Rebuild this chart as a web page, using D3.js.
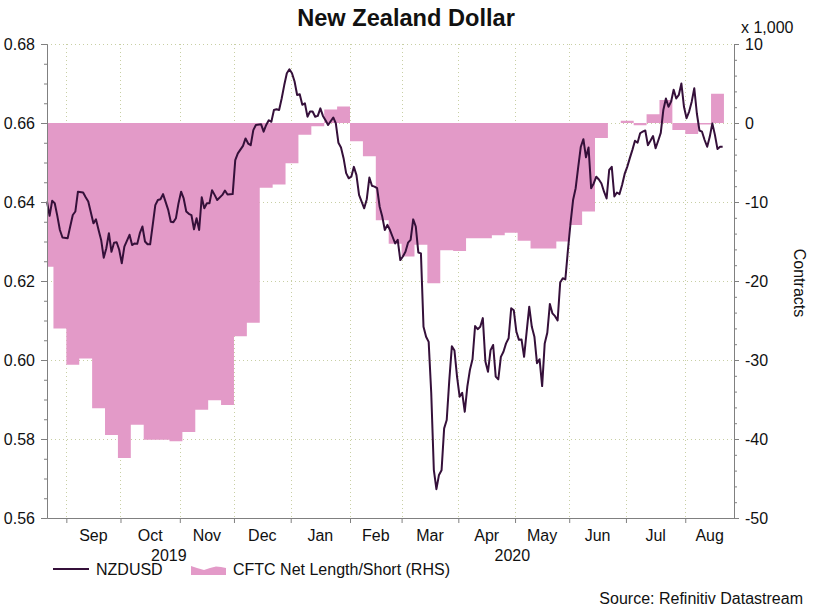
<!DOCTYPE html>
<html>
<head>
<meta charset="utf-8">
<script src="https://cdn.jsdelivr.net/npm/d3@7"></script>
<style>
  body { margin: 0; background: #fff; }
  svg text { font-family: "Liberation Sans", Arial, sans-serif; fill: #111; }
</style>
</head>
<body>
<div id="chart"></div>
<script>
// first trading day shown
const startDay = new Date(2019, 7, 21);

// NZDUSD; fxDay = trading days after 21 Aug 2019
const fxDay = [0,1,2,3,4,5,6,8,9,10,11,12,14,15,16,18,19,20,21,22,23,24,25,26,27,28,29,30,32,33,34,35,36,37,38,39,40,41,42,43,44,45,47,48,49,50,51,52,53,54,55,56,57,58,59,60,61,62,63,64,65,66,68,69,
  70,72,73,74,76,77,78,79,80,81,83,84,85,86,87,88,89,90,91,92,93,94,95,96,97,98,99,100,101,102,103,104,105,106,107,108,109,111,112,113,114,115,116,117,118,119,120,121,123,124,125,126,127,128,129,130,131,132,133,134,135,136,137,
  138,139,140,141,142,143,144,145,146,147,148,149,150,151,152,153,154,155,156,157,158,159,160,161,162,163,164,165,166,167,168,169,170,171,172,173,174,175,176,177,178,179,180,181,182,183,184,185,186,187,188,189,190,191,192,193,194,195,196,197,198,199,200,201,202,203,204,205,
  206,207,208,209,210,211,212,213,214,215,216,217,218,219,220,221,222,223,224,225,226,227,228,229,230,231,232,233,234,235,236,237,238,239,240,241,242,243,244,245,246,247,248,249,250,251,252,253,254,255,256,257,258,259,260,261,262];
const fxValue = [0.6401,0.6365,0.6403,0.6397,0.6365,0.6329,0.6310,0.6308,0.6338,0.6367,0.6376,0.6426,0.6424,0.6412,0.6401,0.6346,0.6356,0.6329,0.6304,0.6259,0.6283,0.6321,0.6274,0.6297,0.6298,0.6279,0.6245,0.6287,0.6317,0.6291,0.6295,0.6294,0.6321,0.6338,0.6300,0.6293,0.6293,0.6342,0.6392,0.6405,0.6407,0.6420,0.6380,0.6350,0.6349,0.6359,0.6397,0.6426,0.6409,0.6376,0.6370,0.6367,0.6331,0.6359,0.6329,0.6412,0.6384,0.6397,0.6397,0.6430,0.6418,0.6405,0.6418,0.6429,
  0.6419,0.6420,0.6506,0.6523,0.6542,0.6561,0.6548,0.6544,0.6582,0.6595,0.6597,0.6578,0.6595,0.6607,0.6603,0.6633,0.6635,0.6633,0.6662,0.6696,0.6726,0.6736,0.6726,0.6705,0.6671,0.6673,0.6646,0.6650,0.6616,0.6629,0.6629,0.6616,0.6618,0.6637,0.6618,0.6607,0.6595,0.6614,0.6599,0.6550,0.6538,0.6511,0.6473,0.6460,0.6464,0.6489,0.6468,0.6418,0.6384,0.6407,0.6462,0.6441,0.6439,0.6435,0.6388,0.6363,0.6329,0.6342,0.6329,0.6312,0.6295,0.6304,0.6253,
  0.6262,0.6274,0.6297,0.6304,0.6356,0.6338,0.6272,0.6270,0.6084,0.6059,0.6046,0.5916,0.5722,0.5673,0.5709,0.5721,0.5827,0.5848,0.5949,0.6035,0.6024,0.5958,0.5907,0.5917,0.5869,0.5933,0.5975,0.6002,0.6086,0.6078,0.6084,0.6106,0.5996,0.5970,0.6025,0.6038,0.5958,0.5951,0.6008,0.6021,0.6042,0.6055,0.6131,0.6126,0.6072,0.6051,0.6052,0.6008,0.6072,0.6135,0.6084,0.6059,0.5992,0.6002,0.5934,0.6042,0.6069,0.6142,0.6118,0.6111,0.6100,0.6196,0.6207,0.6204,0.6278,0.6346,0.6405,0.6435,
  0.6489,0.6540,0.6559,0.6513,0.6538,0.6435,0.6447,0.6464,0.6457,0.6447,0.6426,0.6409,0.6481,0.6489,0.6414,0.6424,0.6420,0.6443,0.6471,0.6489,0.6511,0.6532,0.6555,0.6550,0.6574,0.6578,0.6581,0.6544,0.6555,0.6567,0.6536,0.6555,0.6575,0.6633,0.6662,0.6641,0.6654,0.6684,0.6662,0.6671,0.6700,0.6641,0.6612,0.6629,0.6654,0.6688,0.6624,0.6581,0.6578,0.6557,0.6540,0.6565,0.6599,0.6570,0.6534,0.6540,0.6540];

// CFTC net position, thousands of contracts, one value per week (weeks start on Monday)
const cftcWeekStart = d3.timeMonday.range(new Date(2019, 7, 19), new Date(2020, 7, 18));
const cftcValue = [-18.2,-26.0,-30.6,-29.8,-36.1,-39.5,-42.4,-38.2,-40.1,-40.1,-40.3,-39.1,-36.3,-35.1,-35.7,-27.0,-25.3,
  -8.2,-7.8,-5.1,-1.5,-0.4,1.7,2.1,-2.3,-4.2,-12.3,-15.3,-16.9,-15.4,-20.3,-16.1,-16.2,-14.6,-14.6,-14.2,-13.9,-14.9,-15.9,-15.9,-15.0,
  -12.9,-11.2,-1.9,0,0.3,-0.3,1.1,2.9,-0.9,-1.4,-0.2,3.7];

const leftTicks = [0.56, 0.58, 0.60, 0.62, 0.64, 0.66, 0.68];
const rightTicks = [-50, -40, -30, -20, -10, 0, 10];
const axisEndDay = 266.4;   // axis runs a few days past the last point

const width = 813, height = 608;
const plot = { left: 47, right: 734, top: 44, bottom: 518 };
const lineColor = "#35103a", areaColor = "#e39ac8", axisColor = "#808080", gridColor = "#c8cfa4";

const weekday = d3.timeDay.filter(d => d.getDay() !== 0 && d.getDay() !== 6);
function tradingDay(date) {
  return date < startDay ? -weekday.range(date, startDay).length : weekday.range(startDay, date).length;
}

const x = d3.scaleLinear().domain([0, axisEndDay]).range([plot.left, plot.right]);
const yL = d3.scaleLinear().domain([0.56, 0.68]).range([plot.bottom, plot.top]);
const yR = d3.scaleLinear().domain([-50, 10]).range([plot.bottom, plot.top]);

const svg = d3.select("#chart").append("svg")
  .attr("width", width).attr("height", height);

svg.append("defs").append("clipPath").attr("id", "plotclip")
  .append("rect")
  .attr("x", plot.left).attr("y", plot.top)
  .attr("width", plot.right - plot.left).attr("height", plot.bottom - plot.top);

// month boundaries
const months = d3.timeMonth.range(new Date(2019, 8, 1), new Date(2020, 8, 1));
const monthPos = months.map(m => tradingDay(m) - 0.5);
const nextMonthPos = tradingDay(new Date(2020, 8, 1)) - 0.5;

// grid
const grid = svg.append("g")
  .attr("stroke", gridColor).attr("stroke-width", 1).attr("stroke-dasharray", "1,3");
grid.selectAll("line.h").data(leftTicks.filter(t => t > 0.56)).join("line")
  .attr("class", "h")
  .attr("x1", plot.left).attr("x2", plot.right)
  .attr("y1", d => yL(d) + 0.5).attr("y2", d => yL(d) + 0.5);
grid.selectAll("line.v").data(monthPos).join("line")
  .attr("class", "v")
  .attr("x1", d => Math.round(x(d)) + 0.5).attr("x2", d => Math.round(x(d)) + 0.5)
  .attr("y1", plot.top).attr("y2", plot.bottom);

// CFTC step area
const cftcPoints = cftcWeekStart.map((d, i) => [tradingDay(d) - 0.5, cftcValue[i]]);
const last = cftcPoints[cftcPoints.length - 1];
cftcPoints.push([last[0] + 5, last[1]]);

const area = d3.area()
  .curve(d3.curveStepAfter)
  .x(d => x(d[0]))
  .y0(yR(0))
  .y1(d => yR(d[1]));

svg.append("path")
  .datum(cftcPoints)
  .attr("clip-path", "url(#plotclip)")
  .attr("fill", areaColor)
  .attr("d", area);

// NZDUSD line
const line = d3.line()
  .x((d, i) => x(fxDay[i]))
  .y(d => yL(d));

svg.append("path")
  .datum(fxValue)
  .attr("fill", "none")
  .attr("stroke", lineColor)
  .attr("stroke-width", 2)
  .attr("stroke-linejoin", "round")
  .attr("d", line);

// axes
function styleAxis(g) {
  g.selectAll(".domain").attr("stroke", axisColor);
  g.selectAll(".tick line").attr("stroke", axisColor);
  g.selectAll("text").attr("font-size", 16).attr("fill", "#111")
    .attr("font-family", "'Liberation Sans', Arial, sans-serif");
}

const leftMinor = d3.range(0.56, 0.6801, 0.005);
svg.append("g").attr("transform", `translate(${plot.left},0)`)
  .call(d3.axisLeft(yL).tickValues(leftMinor).tickSize(3).tickFormat("").tickSizeOuter(0))
  .call(styleAxis);
svg.append("g").attr("transform", `translate(${plot.left},0)`)
  .call(d3.axisLeft(yL).tickValues(leftTicks).tickSize(6).tickPadding(6).tickFormat(d3.format(".2f")).tickSizeOuter(0))
  .call(styleAxis)
  .call(g => g.selectAll("text").attr("dy", "0.36em"));

const rightMinor = d3.range(-50, 10.01, 2);
svg.append("g").attr("transform", `translate(${plot.right},0)`)
  .call(d3.axisRight(yR).tickValues(rightMinor).tickSize(3).tickFormat("").tickSizeOuter(0))
  .call(styleAxis);
svg.append("g").attr("transform", `translate(${plot.right},0)`)
  .call(d3.axisRight(yR).tickValues(rightTicks).tickSize(5).tickPadding(6).tickFormat(d => String(d)).tickSizeOuter(0))
  .call(styleAxis)
  .call(g => g.selectAll("text").attr("dy", "0.36em"));

svg.append("g").attr("transform", `translate(0,${plot.bottom})`)
  .call(d3.axisBottom(x).tickValues(monthPos).tickSize(5).tickFormat("").tickSizeOuter(0))
  .call(styleAxis);

// month labels centred in each month
const fmtMonth = d3.timeFormat("%b");
const ends = monthPos.slice(1).concat([nextMonthPos]);
svg.append("g").selectAll("text").data(months).join("text")
  .attr("x", (d, i) => x((monthPos[i] + Math.min(ends[i], axisEndDay)) / 2))
  .attr("y", 541)
  .attr("text-anchor", "middle")
  .attr("font-size", 16)
  .text(d => fmtMonth(d));

const yearSplit = tradingDay(new Date(2020, 0, 1)) - 0.5;
svg.append("g").selectAll("text")
  .data([[2019, 0, yearSplit], [2020, yearSplit, axisEndDay]]).join("text")
  .attr("x", d => x((d[1] + d[2]) / 2))
  .attr("y", 561)
  .attr("text-anchor", "middle")
  .attr("font-size", 16)
  .text(d => d[0]);

// titles
svg.append("text")
  .attr("x", 406).attr("y", 26)
  .attr("text-anchor", "middle")
  .attr("font-size", 23.6).attr("font-weight", "bold")
  .text("New Zealand Dollar");

svg.append("text")
  .attr("x", 741).attr("y", 33)
  .attr("font-size", 16)
  .text("x 1,000");

svg.append("text")
  .attr("transform", "translate(794,283) rotate(90)")
  .attr("text-anchor", "middle")
  .attr("font-size", 16)
  .text("Contracts");

// legend
const legend = svg.append("g");
legend.append("line")
  .attr("x1", 53).attr("x2", 89).attr("y1", 569).attr("y2", 569)
  .attr("stroke", lineColor).attr("stroke-width", 2);
legend.append("text").attr("x", 96).attr("y", 575).attr("font-size", 16).text("NZDUSD");
legend.append("path")
  .attr("fill", areaColor)
  .attr("d", "M191,575 L191,566 L197,568 L204,570 L210,568 L216,566.5 L221,567 L226,568 L226,575 Z");
legend.append("text").attr("x", 233).attr("y", 575).attr("font-size", 16).text("CFTC Net Length/Short (RHS)");

svg.append("text")
  .attr("x", 803).attr("y", 604)
  .attr("text-anchor", "end")
  .attr("font-size", 16)
  .text("Source: Refinitiv Datastream");
</script>
</body>
</html>
